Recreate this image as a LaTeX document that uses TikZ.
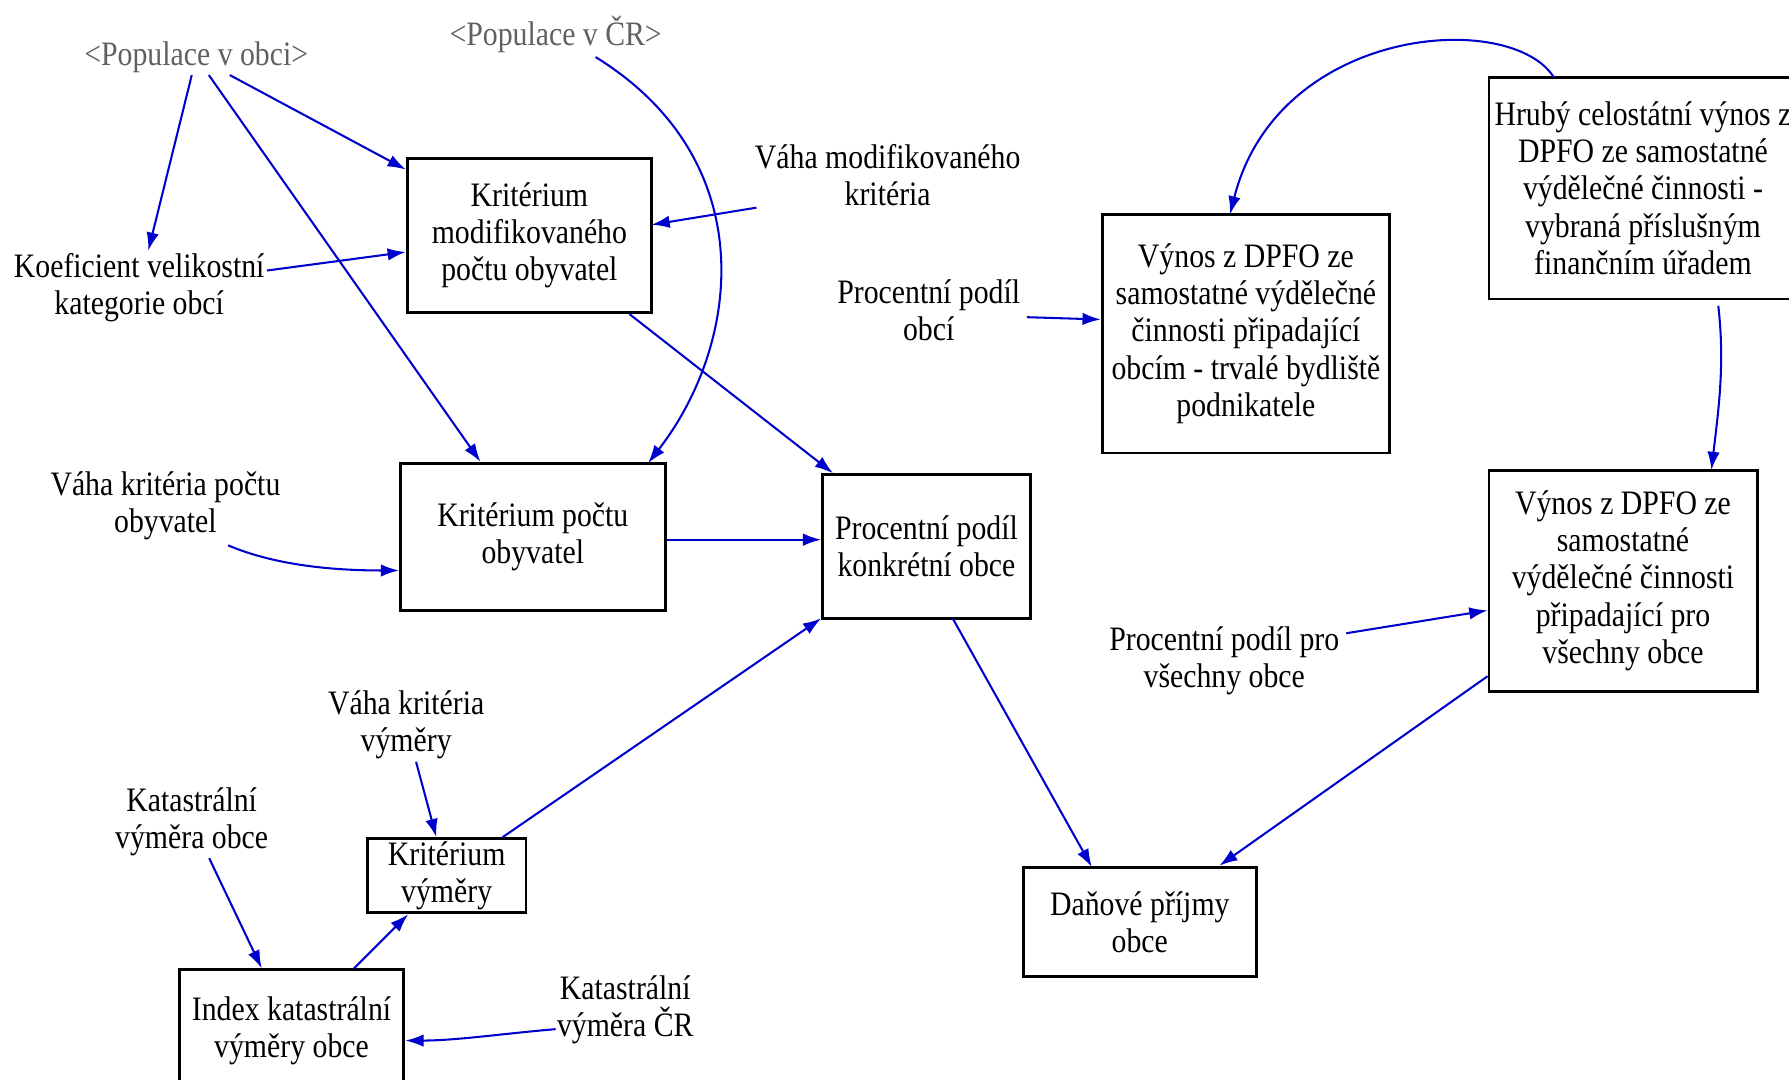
\documentclass[tikz,border=0pt]{standalone}
\usepackage{fontspec}
\setmainfont{Liberation Serif}[FakeStretch=0.87]
\usetikzlibrary{calc,arrows.meta}
\definecolor{arrblue}{RGB}{0,0,205}
\definecolor{grtxt}{RGB}{96,96,96}
\begin{document}
\begin{tikzpicture}[x=1pt,y=-1pt,
  every node/.style={font=\fontsize{30}{32.5}\selectfont, align=center},
  vbox/.style={draw, line width=2.5pt, inner sep=0pt},
  lbl/.style={inner sep=2pt},
  shadowvar/.style={lbl, text=grtxt},
  arr/.style={draw=arrblue, line width=1.8pt, -{Latex[length=16pt,width=11pt]}},
]
\useasboundingbox (0,0) rectangle (1568,946);
\clip (0,0) rectangle (1568,946);

% boxes
\node[vbox, minimum width=214pt, minimum height=135pt] (b1) at (464,206.5) {Kritérium\\modifikovaného\\počtu obyvatel};
\node[vbox, minimum width=232pt, minimum height=129pt] (b2) at (467,470.5) {Kritérium počtu\\obyvatel};
\node[vbox, minimum width=182pt, minimum height=126pt] (b3) at (812,479) {Procentní podíl\\konkrétní obce};
\node[vbox, minimum width=252pt, minimum height=209pt] (b4) at (1092,292.5) {Výnos z DPFO ze\\samostatné výdělečné\\činnosti připadající\\obcím - trvalé bydliště\\podnikatele};
\node[vbox, minimum width=270pt, minimum height=194pt] (b5) at (1440,165) {Hrubý celostátní výnos z\\DPFO ze samostatné\\výdělečné činnosti -\\vybraná příslušným\\finančním úřadem};
\node[vbox, minimum width=235pt, minimum height=194pt] (b6) at (1422.5,509) {Výnos z DPFO ze\\samostatné\\výdělečné činnosti\\připadající pro\\všechny obce};
\node[vbox, minimum width=204pt, minimum height=96pt] (b7) at (999,808) {Daňové příjmy\\obce};
\node[vbox, minimum width=139pt, minimum height=65pt] (b8) at (391.5,767.5) {Kritérium\\výměry};
\node[vbox, minimum width=197pt, minimum height=107pt] (b9) at (255.5,903.5) {Index katastrální\\výměry obce};

% labels
\node[shadowvar] (pobci) at (172,50) {<Populace v obci>};
\node[shadowvar] (pcr) at (487,30) {<Populace v ČR>};
\node[lbl] (vmod) at (778,153.5) {Váha modifikovaného\\kritéria};
\node[lbl] (koef) at (122,252) {Koeficient velikostní\\kategorie obcí};
\node[lbl] (vpoc) at (145,443.5) {Váha kritéria počtu\\obyvatel};
\node[lbl] (ppo) at (814,272) {Procentní podíl\\obcí};
\node[lbl] (ppall) at (1073,579.5) {Procentní podíl pro\\všechny obce};
\node[lbl] (vkv) at (356,635.5) {Váha kritéria\\výměry};
\node[lbl] (kvo) at (168,720) {Katastrální\\výměra obce};
\node[lbl] (kvcr) at (548,885) {Katastrální\\výměra ČR};

% connectors
\draw[arr] (pobci) -- (koef);
\draw[arr] (pobci) -- (b1);
\draw[arr] (pobci) -- (b2);
\draw[arr] (koef) -- (b1);
\draw[arr] ($(pcr)+(35,20)$) .. controls (668,140) and (650,300) .. ($(b2)+(101,-64.5)$);
\draw[arr] ($(vmod)+(-115,28.5)$) -- ($(b1)+(107,-9.5)$);
\draw[arr] (b1) -- (b3);
\draw[arr] ($(b2.east)+(0,2.5)$) -- ($(b3.west)+(0,-6)$);
\draw[arr] ($(vpoc)+(55,34.5)$) .. controls (240,495) and (290,500) .. ($(b2.west)+(0,29.5)$);
\draw[arr] ($(ppo)+(86,6)$) -- ($(b4.west)+(0,-12.5)$);
\draw[arr] ($(b5)+(-78,-97)$) .. controls (1325,8) and (1120,22) .. ($(b4)+(-14,-104.5)$);
\draw[arr] ($(b5)+(66,103)$) .. controls (1512,320) and (1506,360) .. ($(b6)+(77.5,-97)$);
\draw[arr] ($(ppall)+(107,-24.5)$) -- ($(b6.west)+(0,26)$);
\draw[arr] ($(b3)+(23,63)$) -- ($(b7)+(-42,-48)$);
\draw[arr] (b6) -- (b7);
\draw[arr] (b8) -- (b3);
\draw[arr] (vkv) -- (b8);
\draw[arr] (kvo) -- (b9);
\draw[arr] (b9) -- (b8);
\draw[arr] ($(kvcr)+(-61,17)$) .. controls (440,906) and (400,912) .. ($(b9.east)+(0,8.5)$);
\end{tikzpicture}
\end{document}
